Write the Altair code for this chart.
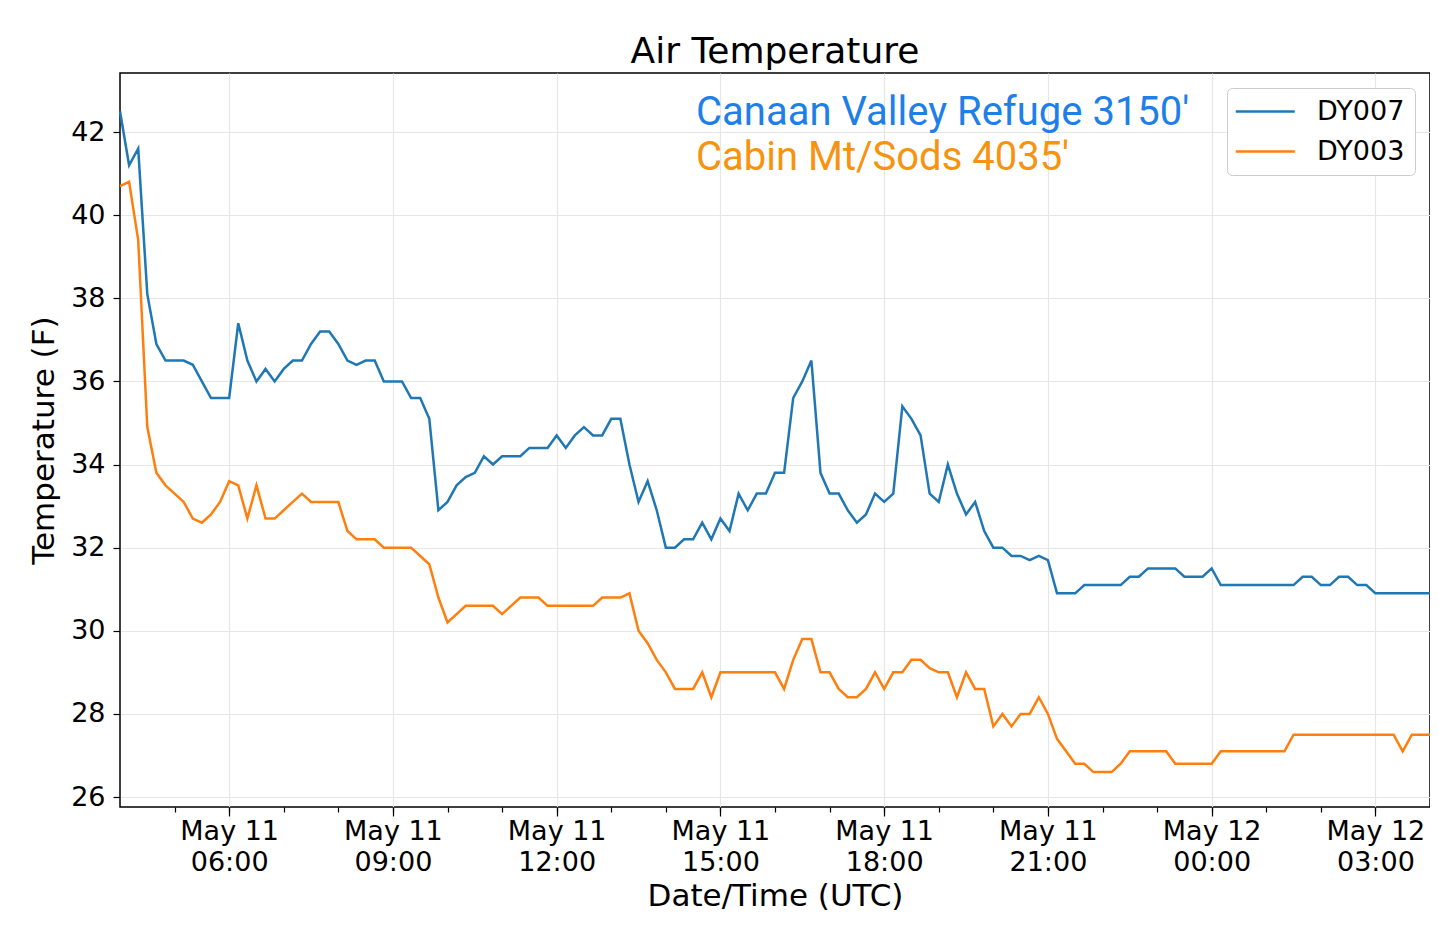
import altair as alt
import pandas as pd

# 10-minute readings, May 11 04:00 UTC to May 12 04:00 UTC
start = pd.Timestamp("2020-05-11 04:00:00")
n_points = 145

dy007 = [
    42.5, 41.2, 41.6, 38.1, 36.9, 36.5, 36.5, 36.5, 36.4, 36.0, 35.6, 35.6, 35.6,
    37.4, 36.5, 36.0, 36.3, 36.0, 36.3, 36.5, 36.5, 36.9, 37.2, 37.2, 36.9,
    36.5, 36.4, 36.5, 36.5, 36.0, 36.0, 36.0, 35.6, 35.6, 35.1, 32.9, 33.1,
    33.5, 33.7, 33.8, 34.2, 34.0, 34.2, 34.2, 34.2, 34.4, 34.4, 34.4, 34.7,
    34.4, 34.7, 34.9, 34.7, 34.7, 35.1, 35.1, 34.0, 33.1, 33.6, 32.9, 32.0,
    32.0, 32.2, 32.2, 32.6, 32.2, 32.7, 32.4, 33.3, 32.9, 33.3, 33.3, 33.8,
    33.8, 35.6, 36.0, 36.5, 33.8, 33.3, 33.3, 32.9, 32.6, 32.8, 33.3, 33.1,
    33.3, 35.4, 35.1, 34.7, 33.3, 33.1, 34.0, 33.3, 32.8, 33.1, 32.4, 32.0,
    32.0, 31.8, 31.8, 31.7, 31.8, 31.7, 30.9, 30.9, 30.9, 31.1, 31.1, 31.1,
    31.1, 31.1, 31.3, 31.3, 31.5, 31.5, 31.5, 31.5, 31.3, 31.3, 31.3, 31.5,
    31.1, 31.1, 31.1, 31.1, 31.1, 31.1, 31.1, 31.1, 31.1, 31.3, 31.3, 31.1,
    31.1, 31.3, 31.3, 31.1, 31.1, 30.9, 30.9, 30.9, 30.9, 30.9, 30.9, 30.9,
]

dy003 = [
    40.7, 40.8, 39.4, 34.9, 33.8, 33.5, 33.3, 33.1, 32.7, 32.6, 32.8, 33.1, 33.6,
    33.5, 32.7, 33.5, 32.7, 32.7, 32.9, 33.1, 33.3, 33.1, 33.1, 33.1, 33.1,
    32.4, 32.2, 32.2, 32.2, 32.0, 32.0, 32.0, 32.0, 31.8, 31.6, 30.8, 30.2,
    30.4, 30.6, 30.6, 30.6, 30.6, 30.4, 30.6, 30.8, 30.8, 30.8, 30.6, 30.6,
    30.6, 30.6, 30.6, 30.6, 30.8, 30.8, 30.8, 30.9, 30.0, 29.7, 29.3, 29.0,
    28.6, 28.6, 28.6, 29.0, 28.4, 29.0, 29.0, 29.0, 29.0, 29.0, 29.0, 29.0,
    28.6, 29.3, 29.8, 29.8, 29.0, 29.0, 28.6, 28.4, 28.4, 28.6, 29.0, 28.6,
    29.0, 29.0, 29.3, 29.3, 29.1, 29.0, 29.0, 28.4, 29.0, 28.6, 28.6, 27.7,
    28.0, 27.7, 28.0, 28.0, 28.4, 28.0, 27.4, 27.1, 26.8, 26.8, 26.6, 26.6,
    26.6, 26.8, 27.1, 27.1, 27.1, 27.1, 27.1, 26.8, 26.8, 26.8, 26.8, 26.8,
    27.1, 27.1, 27.1, 27.1, 27.1, 27.1, 27.1, 27.1, 27.5, 27.5, 27.5, 27.5,
    27.5, 27.5, 27.5, 27.5, 27.5, 27.5, 27.5, 27.5, 27.1, 27.5, 27.5, 27.5,
]

stations = ["DY007", "DY003"]
line_colors = ["#1f77b4", "#ff7f0e"]
y_ticks = [26, 28, 30, 32, 34, 36, 38, 40, 42]

times = [(start + pd.Timedelta(minutes=10 * i)).strftime("%Y-%m-%dT%H:%M:%SZ")
         for i in range(n_points)]

df = pd.concat([
    pd.DataFrame({"time": times, "temp": dy007, "station": "DY007"}),
    pd.DataFrame({"time": times, "temp": dy003, "station": "DY003"}),
])


def utc(h):
    return alt.DateTime(year=2020, month=5, date=11 + h // 24, hours=h % 24, utc=True)


major_ticks = [utc(h) for h in range(6, 28, 3)]
minor_ticks = [utc(h) for h in range(5, 28)]

FONT = "DejaVu Sans"
x_scale = alt.Scale(type="utc", domain=[utc(4), utc(28)])
y_scale = alt.Scale(domain=[25.76, 43.42], nice=False, zero=False)

lines = alt.Chart(df).mark_line(strokeWidth=2.5).encode(
    x=alt.X("time:T", scale=x_scale, title="Date/Time (UTC)",
            axis=alt.Axis(values=major_ticks, grid=True, tickSize=9, orient="bottom",
                          labelExpr="[utcFormat(datum.value, '%b %d'), utcFormat(datum.value, '%H:%M')]",
                          labelLineHeight=31, labelPadding=2, titlePadding=6)),
    y=alt.Y("temp:Q", scale=y_scale, title="Temperature (F)",
            axis=alt.Axis(values=y_ticks, grid=True, tickSize=7, labelPadding=8,
                          titlePadding=10)),
    color=alt.Color("station:N", scale=alt.Scale(domain=stations, range=line_colors),
                    sort=stations,
                    legend=alt.Legend(title=None, orient="none", legendX=1107, legendY=15,
                                      symbolType="M-1.5,0H4.5", symbolSize=387,
                                      symbolStrokeWidth=2.5, labelFontSize=27,
                                      labelFont=FONT, labelColor="black", labelOffset=53,
                                      rowPadding=12, fillColor="white",
                                      strokeColor="#cccccc", cornerRadius=5, padding=10)),
)

minor = alt.Chart(df).mark_line(opacity=0).encode(
    x=alt.X("time:T", scale=x_scale, title=None,
            axis=alt.Axis(values=minor_ticks, labels=False, grid=False, tickSize=5,
                          domain=False, orient="bottom")),
    y=alt.Y("temp:Q", scale=y_scale),
    detail="station:N",
)

label_blue = alt.Chart(pd.DataFrame({"t": ["Canaan Valley Refuge 3150'"]})).mark_text(
    font="Roboto", fontSize=40, color="#1f7fe8", align="left", baseline="alphabetic"
).encode(x=alt.value(576), y=alt.value(52), text="t:N")

label_orange = alt.Chart(pd.DataFrame({"t": ["Cabin Mt/Sods 4035'"]})).mark_text(
    font="Roboto", fontSize=40, color="#f7940f", align="left", baseline="alphabetic"
).encode(x=alt.value(576), y=alt.value(97), text="t:N")

chart = alt.layer(lines, minor, label_blue, label_orange).resolve_axis(
    x="independent"
).properties(
    width=1310,
    height=734,
    title=alt.TitleParams("Air Temperature", font=FONT, fontSize=36, fontWeight="normal",
                          color="black", anchor="middle", frame="group", offset=2),
    autosize=alt.AutoSizeParams(type="none"),
    padding={"left": 112, "top": 65, "right": 0, "bottom": 120},
).configure_view(
    stroke="black", strokeWidth=1.5
).configure_axis(
    labelFont=FONT, titleFont=FONT, labelFontSize=27, titleFontSize=31,
    titleFontWeight="normal", labelColor="black", titleColor="black",
    tickColor="black", domain=False, gridColor="#e6e6e6", gridWidth=1.2,
    tickWidth=1.2,
)

chart.save("out.html", embed_options={"renderer": "svg", "actions": False})
